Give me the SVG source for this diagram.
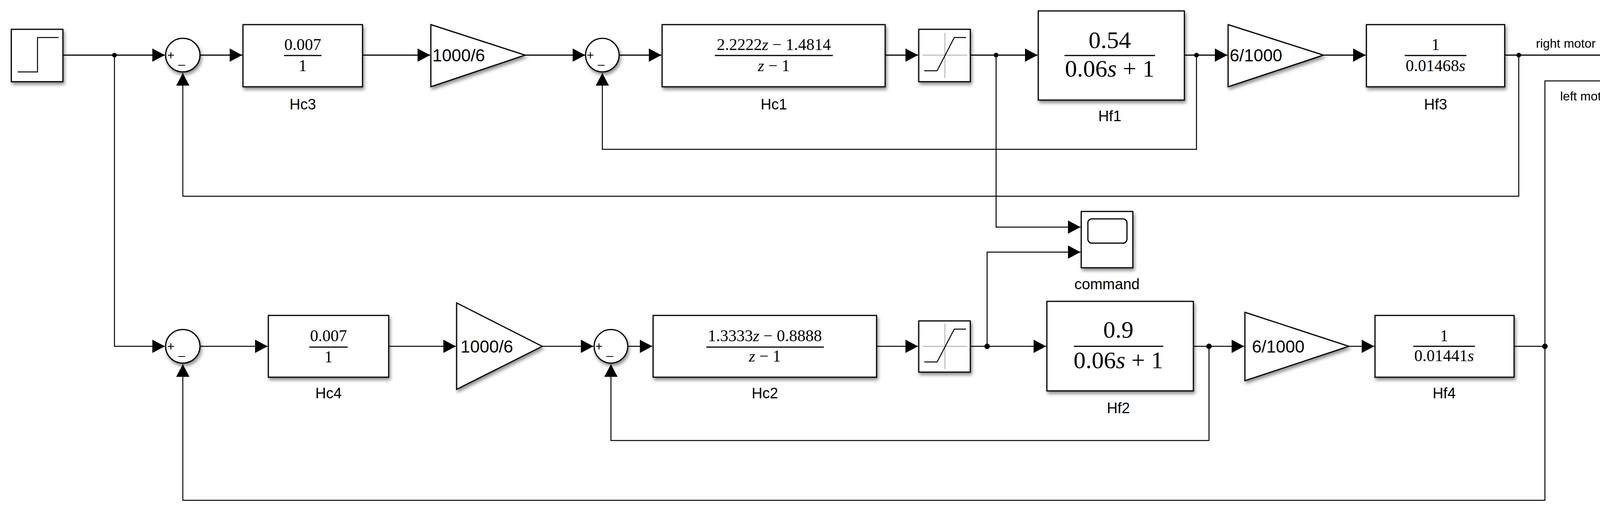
<svg xmlns="http://www.w3.org/2000/svg" width="4382" height="1315" viewBox="0 0 4382 1315">
<style>
.blk{fill:#fff;stroke:#000;stroke-width:3;filter:url(#sh)}
.ln{fill:none;stroke:#000;stroke-width:3}
.thin{fill:none;stroke:#000;stroke-width:2.5}
.ax{stroke:#aaa;stroke-width:2;fill:none}
.lbl{font-family:"Liberation Sans",Arial,sans-serif;font-size:38px;text-anchor:middle;fill:#000}
.sg{font-family:"Liberation Sans",Arial,sans-serif;font-size:32px;fill:#000}
.gn{font-family:"Liberation Sans",Arial,sans-serif;font-size:44px;fill:#000}
.fr{font-family:"Liberation Serif","Times New Roman",serif;font-size:42px;text-anchor:middle;fill:#000}
.fb{font-family:"Liberation Serif","Times New Roman",serif;font-size:62px;text-anchor:middle;fill:#000}
.bar{stroke:#000;stroke-width:3}
.dot{fill:#000}
.pm{font-family:"Liberation Sans",Arial,sans-serif;font-size:32px;fill:#000}
</style>
<defs>
<filter id="sh" x="-10%" y="-10%" width="130%" height="130%"><feDropShadow dx="3" dy="6" stdDeviation="4" flood-color="#000" flood-opacity="0.45"/></filter>
<marker id="ar" markerUnits="userSpaceOnUse" markerWidth="34" markerHeight="36" refX="32" refY="17" orient="auto"><path d="M0,0 L32,17 L0,34 z" fill="#000"/></marker>
</defs>
<rect width="4382" height="1315" fill="#fff"/>
<g id="connectors">
<path class="ln" d="M161,141 H422" marker-end="url(#ar)"/>
<path class="ln" d="M512,141 H620" marker-end="url(#ar)"/>
<path class="ln" d="M928,141 H1101" marker-end="url(#ar)"/>
<path class="ln" d="M1344,141 H1498" marker-end="url(#ar)"/>
<path class="ln" d="M1584,141 H1693" marker-end="url(#ar)"/>
<path class="ln" d="M2266,141 H2350" marker-end="url(#ar)"/>
<path class="ln" d="M2484,141 H2656" marker-end="url(#ar)"/>
<path class="ln" d="M3032,141 H3142" marker-end="url(#ar)"/>
<path class="ln" d="M3388,141 H3496" marker-end="url(#ar)"/>
<path class="ln" d="M3852,141 H4228" marker-end="url(#ar)"/>
<path class="thin" d="M3063,141 V382 H1542 V187" marker-end="url(#ar)"/>
<path class="thin" d="M3888,141 V502 H468 V187" marker-end="url(#ar)"/>
<path class="thin" d="M293,141 V886 H422" marker-end="url(#ar)"/>
<path class="thin" d="M2550,141 V581 H2766" marker-end="url(#ar)"/>
<path class="thin" d="M2527,886 V645 H2766" marker-end="url(#ar)"/>
<path class="thin" d="M512,886 H685" marker-end="url(#ar)"/>
<path class="thin" d="M995,886 H1167" marker-end="url(#ar)"/>
<path class="thin" d="M1388,886 H1519" marker-end="url(#ar)"/>
<path class="thin" d="M1607,886 H1670" marker-end="url(#ar)"/>
<path class="thin" d="M2244,886 H2350" marker-end="url(#ar)"/>
<path class="thin" d="M2484,886 H2678" marker-end="url(#ar)"/>
<path class="thin" d="M3055,886 H3185" marker-end="url(#ar)"/>
<path class="thin" d="M3453,886 H3518" marker-end="url(#ar)"/>
<path class="thin" d="M3876,886 H3955 V207 H4228" marker-end="url(#ar)"/>
<path class="thin" d="M3955,886 V1280 H468 V932" marker-end="url(#ar)"/>
<path class="thin" d="M3095,886 V1127 H1564 V932" marker-end="url(#ar)"/>
<circle class="dot" cx="293" cy="141" r="6"/>
<circle class="dot" cx="2550" cy="141" r="6"/>
<circle class="dot" cx="3063" cy="141" r="6"/>
<circle class="dot" cx="3888" cy="141" r="6"/>
<circle class="dot" cx="2527" cy="886" r="7"/>
<circle class="dot" cx="3095" cy="886" r="7"/>
<circle class="dot" cx="3955" cy="886" r="7"/>
<text class="sg" x="3932" y="122">right motor</text>
<text class="sg" x="3994" y="257">left motor</text>
</g>
<g id="step"><rect class="blk" x="29" y="75" width="132" height="134"/><path class="thin" d="M45,184 H96 V96 H150"/></g>
<g id="sum1"><ellipse class="blk" cx="468" cy="141" rx="44" ry="43"/><text class="pm" x="428" y="152">+</text><text class="pm" x="456" y="175">–</text></g>
<g id="Hc3"><rect class="blk" x="622" y="63" width="306" height="159"/><text class="fr" x="775" y="128">0.007</text><line class="bar" x1="727" y1="142" x2="823" y2="142"/><text class="fr" x="775" y="182">1</text><text class="lbl" x="775" y="280">Hc3</text></g>
<g id="gain1"><path class="blk" d="M1103,63 L1344,141 L1103,222 z"/><text class="gn" x="1107" y="157">1000/6</text></g>
<g id="sum2"><ellipse class="blk" cx="1542" cy="141" rx="43" ry="43"/><text class="pm" x="1502" y="152">+</text><text class="pm" x="1530" y="175">–</text></g>
<g id="Hc1"><rect class="blk" x="1695" y="63" width="571" height="159"/><text class="fr" x="1981" y="128">2.2222<tspan font-style="italic">z</tspan> − 1.4814</text><line class="bar" x1="1830" y1="142" x2="2132" y2="142"/><text class="fr" x="1981" y="182"><tspan font-style="italic">z</tspan> − 1</text><text class="lbl" x="1981" y="280">Hc1</text></g>
<g id="sat1"><rect class="blk" x="2352" y="75" width="132" height="134"/><path class="ax" d="M2419,84 V200 M2362,141 H2476"/><path class="thin" d="M2366,181 H2399 L2443,96 H2473"/></g>
<g id="Hf1"><rect class="blk" x="2658" y="28" width="374" height="228"/><text class="fb" x="2841" y="123">0.54</text><line class="bar" x1="2725" y1="142" x2="2957" y2="142"/><text class="fb" x="2841" y="196">0.06<tspan font-style="italic">s</tspan> + 1</text><text class="lbl" x="2841" y="310">Hf1</text></g>
<g id="gain2"><path class="blk" d="M3144,63 L3388,141 L3144,222 z"/><text class="gn" x="3148" y="157">6/1000</text></g>
<g id="Hf3"><rect class="blk" x="3498" y="63" width="354" height="159"/><text class="fr" x="3675" y="128">1</text><line class="bar" x1="3596" y1="142" x2="3754" y2="142"/><text class="fr" x="3675" y="182">0.01468<tspan font-style="italic">s</tspan></text><text class="lbl" x="3675" y="280">Hf3</text></g>
<g id="scope1"><rect class="blk" x="4230" y="102" width="134" height="147"/><rect x="4247" y="119" width="98" height="67" rx="10" fill="none" stroke="#000" stroke-width="3"/></g>
<g id="command"><rect class="blk" x="2768" y="541" width="132" height="144"/><rect x="2785" y="560" width="100" height="62" rx="10" fill="none" stroke="#000" stroke-width="3"/><text class="lbl" x="2834" y="740">command</text></g>
<g id="sum3"><ellipse class="blk" cx="468" cy="886" rx="44" ry="43"/><text class="pm" x="428" y="897">+</text><text class="pm" x="456" y="920">–</text></g>
<g id="Hc4"><rect class="blk" x="687" y="807" width="308" height="158"/><text class="fr" x="841" y="873">0.007</text><line class="bar" x1="792" y1="888" x2="890" y2="888"/><text class="fr" x="841" y="927">1</text><text class="lbl" x="841" y="1019">Hc4</text></g>
<g id="gain3"><path class="blk" d="M1169,775 L1388,886 L1169,996 z"/><text class="gn" x="1179" y="902">1000/6</text></g>
<g id="sum4"><ellipse class="blk" cx="1564" cy="886" rx="43" ry="43"/><text class="pm" x="1524" y="897">+</text><text class="pm" x="1552" y="920">–</text></g>
<g id="Hc2"><rect class="blk" x="1672" y="807" width="572" height="158"/><text class="fr" x="1958" y="873">1.3333<tspan font-style="italic">z</tspan> − 0.8888</text><line class="bar" x1="1808" y1="888" x2="2109" y2="888"/><text class="fr" x="1958" y="925"><tspan font-style="italic">z</tspan> − 1</text><text class="lbl" x="1958" y="1019">Hc2</text></g>
<g id="sat2"><rect class="blk" x="2352" y="821" width="132" height="131"/><path class="ax" d="M2419,828 V944 M2362,886 H2476"/><path class="thin" d="M2366,926 H2399 L2443,842 H2473"/></g>
<g id="Hf2"><rect class="blk" x="2680" y="771" width="375" height="229"/><text class="fb" x="2863" y="864">0.9</text><line class="bar" x1="2749" y1="886" x2="2978" y2="886"/><text class="fb" x="2863" y="942">0.06<tspan font-style="italic">s</tspan> + 1</text><text class="lbl" x="2863" y="1057">Hf2</text></g>
<g id="gain4"><path class="blk" d="M3187,799 L3453,886 L3187,974 z"/><text class="gn" x="3205" y="902">6/1000</text></g>
<g id="Hf4"><rect class="blk" x="3520" y="807" width="356" height="158"/><text class="fr" x="3697" y="873">1</text><line class="bar" x1="3618" y1="886" x2="3776" y2="886"/><text class="fr" x="3697" y="924">0.01441<tspan font-style="italic">s</tspan></text><text class="lbl" x="3697" y="1019">Hf4</text></g>
</svg>
